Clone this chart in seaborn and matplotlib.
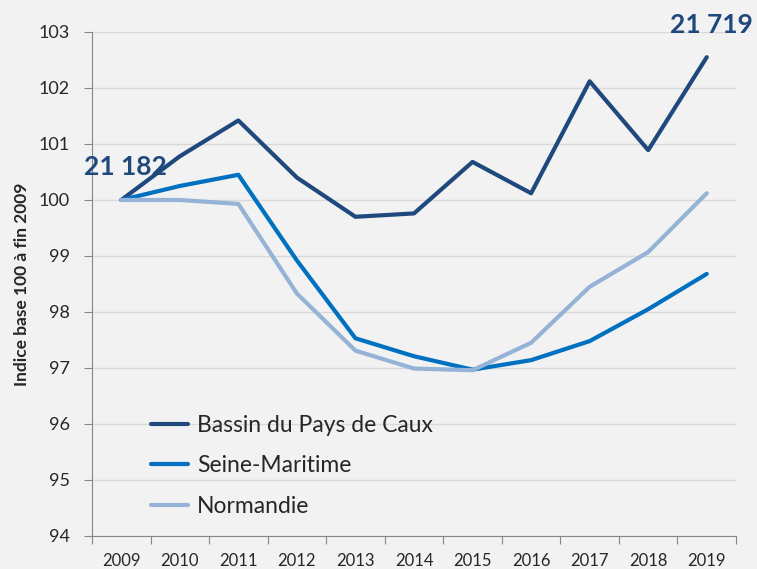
import pandas as pd
import seaborn as sns
import matplotlib.pyplot as plt

# Data (index base 100 at end of 2009)
years = ['2009', '2010', '2011', '2012', '2013', '2014', '2015', '2016', '2017', '2018', '2019']
bassin = [100.0, 100.78, 101.42, 100.40, 99.70, 99.76, 100.68, 100.12, 102.12, 100.89, 102.55]
seine = [100.0, 100.25, 100.45, 98.92, 97.53, 97.21, 96.97, 97.14, 97.48, 98.05, 98.68]
normandie = [100.0, 100.0, 99.93, 98.33, 97.31, 96.99, 96.96, 97.45, 98.45, 99.07, 100.12]
series_names = ['Bassin du Pays de Caux', 'Seine-Maritime', 'Normandie']
colors = ['#1F497D', '#0070C0', '#95B3D7']
label_start = '21 182'
label_end = '21 719'

df = pd.DataFrame({
    'year': years * 3,
    'pos': list(range(len(years))) * 3,
    'value': bassin + seine + normandie,
    'serie': [series_names[0]] * 11 + [series_names[1]] * 11 + [series_names[2]] * 11,
})

sns.set_style("white")
plt.rcParams['font.family'] = ['Lato', 'DejaVu Sans']

fig = plt.figure(figsize=(7.57, 5.69), dpi=100, facecolor='#F2F2F2')
ax = fig.add_axes([0.1215, 0.058, 0.8508, 0.8858])
ax.set_facecolor('#F2F2F2')

sns.lineplot(data=df, x='pos', y='value', hue='serie', hue_order=series_names,
             palette=colors, linewidth=3, ax=ax, legend=True)

ax.set_xlim(-0.5, 10.5)
ax.set_ylim(94, 103)
ax.set_yticks(range(94, 104))
ax.yaxis.grid(True, color='#D9D9D9', linewidth=1)
ax.set_axisbelow(True)

# category axis: ticks between categories, labels at centres
ax.set_xticks([i - 0.5 for i in range(len(years) + 1)])
ax.set_xticklabels([])
ax.set_xticks(range(len(years)), minor=True)
ax.set_xticklabels(years, minor=True)
ax.tick_params(axis='x', which='major', direction='out', length=6, color='#868686', bottom=True)
ax.tick_params(axis='x', which='minor', length=0, pad=12, labelsize=12)
ax.tick_params(axis='y', direction='out', length=6, color='#868686', pad=10, labelsize=13, left=True)

for s in ['top', 'right']:
    ax.spines[s].set_visible(False)
for s in ['left', 'bottom']:
    ax.spines[s].set_color('#868686')

ax.set_xlabel('')
ax.set_ylabel('Indice base 100 à fin 2009', fontsize=12.5, fontweight='bold', labelpad=6)

ax.text(0.07, 100.59, label_start, color='#1F497D', fontsize=19, fontweight='bold',
        ha='center', va='center')
ax.text(10.08, 103.12, label_end, color='#1F497D', fontsize=19, fontweight='bold',
        ha='center', va='center', clip_on=False)

ax.legend(loc='lower left', bbox_to_anchor=(0.06, -0.003), frameon=False, fontsize=16.5,
          handlelength=1.6, handletextpad=0.4, labelspacing=0.85)

plt.savefig('out.png', facecolor='#F2F2F2')
plt.close()
